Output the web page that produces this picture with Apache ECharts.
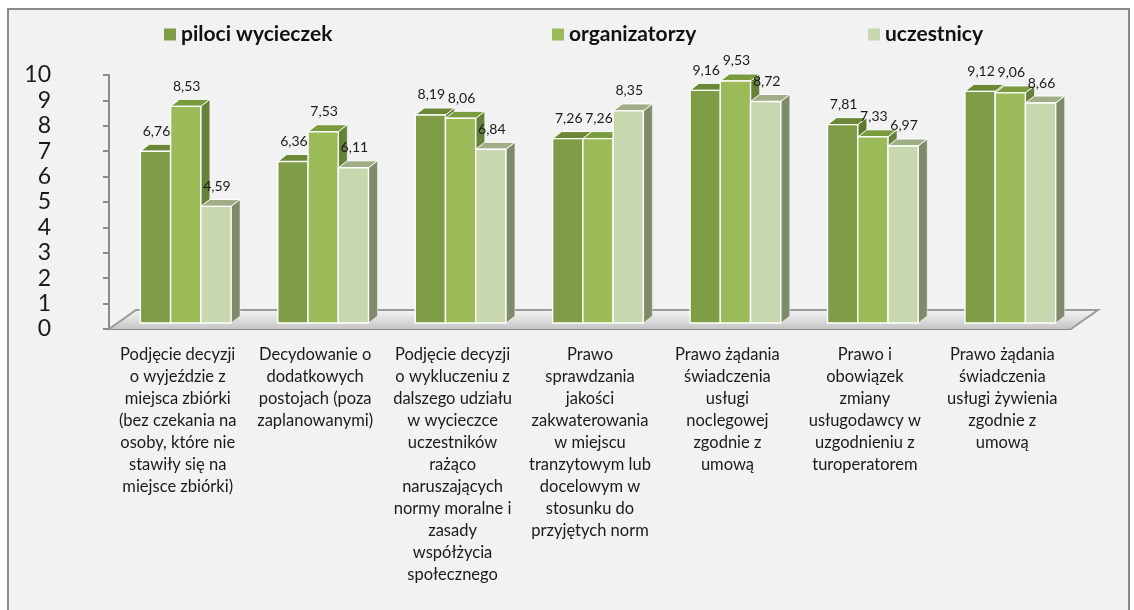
<!DOCTYPE html>
<html>
<head>
<meta charset="utf-8">
<script src="https://cdn.jsdelivr.net/npm/echarts@6/dist/echarts.min.js"></script>
<style>
  html, body { margin: 0; padding: 0; background: #fff; }
  #frame { position: absolute; left: 7px; top: 8px; width: 1119px; height: 640px;
           background: #f2f2f2; border: 2px solid #8a8a8a; }
  #main { position: absolute; left: 0; top: 0; width: 1134px; height: 610px; }
</style>
</head>
<body>
<div id="frame"></div>
<div id="main"></div>
<script>
// dane
const categories = [
  'Podjęcie decyzji\no wyjeździe z\nmiejsca zbiórki\n(bez czekania na\nosoby, które nie\nstawiły się na\nmiejsce zbiórki)',
  'Decydowanie o\ndodatkowych\npostojach (poza\nzaplanowanymi)',
  'Podjęcie decyzji\no wykluczeniu z\ndalszego udziału\nw wycieczce\nuczestników\nrażąco\nnaruszających\nnormy moralne i\nzasady\nwspółżycia\nspołecznego',
  'Prawo\nsprawdzania\njakości\nzakwaterowania\nw miejscu\ntranzytowym lub\ndocelowym w\nstosunku do\nprzyjętych norm',
  'Prawo żądania\nświadczenia\nusługi\nnoclegowej\nzgodnie z\numową',
  'Prawo i\nobowiązek\nzmiany\nusługodawcy w\nuzgodnieniu z\nturoperatorem',
  'Prawo żądania\nświadczenia\nusługi żywienia\nzgodnie z\numową'
];
const seriesNames = ['piloci wycieczek', 'organizatorzy', 'uczestnicy'];
const piloci = [6.76, 6.36, 8.19, 7.26, 9.16, 7.81, 9.12];
const organizatorzy = [8.53, 7.53, 8.06, 7.26, 9.53, 7.33, 9.06];
const uczestnicy = [4.59, 6.11, 6.84, 8.35, 8.72, 6.97, 8.66];
const yMin = 0, yMax = 10, yStep = 1;

const FONT = 'Lato, "Open Sans", sans-serif';
// kolory: przód, góra, bok
const shades = [
  { front: '#7f9c47', top: '#6b8836', side: '#5f7a2f' },
  { front: '#9bbb59', top: '#7b9b3f', side: '#66823a' },
  { front: '#c8d8ae', top: '#9fae86', side: '#7f8a6b' }
];

const DX = 9, DY = 7, OFF_X = 8, OFF_Y = -6;

function fmt(v) { return v.toFixed(2).replace('.', ','); }

function makeBarRender(k) {
  return function (params, api) {
    const ci = api.value(0), v = api.value(1);
    const band = api.size([1, 0])[0];
    const w = band * 0.22;
    const base = api.coord([ci, 0]);
    const top = api.coord([ci, v]);
    const x0 = base[0] + OFF_X - 1.5 * w + k * w;
    const yb = base[1] + OFF_Y, yt = top[1] + OFF_Y;
    const c = shades[k];
    return {
      type: 'group',
      children: [
        { type: 'polygon', shape: { points: [[x0 + w, yt], [x0 + w + DX, yt - DY], [x0 + w + DX, yb - DY], [x0 + w, yb]] },
          style: { fill: c.side, stroke: 'rgba(255,255,255,0.6)', lineWidth: 0.8 } },
        { type: 'polygon', shape: { points: [[x0, yt], [x0 + DX, yt - DY], [x0 + w + DX, yt - DY], [x0 + w, yt]] },
          style: { fill: c.top, stroke: '#ffffff', lineWidth: 1 } },
        { type: 'rect', shape: { x: x0, y: yt, width: w, height: yb - yt },
          style: { fill: c.front, stroke: '#ffffff', lineWidth: 1.4 } },
        { type: 'text', x: x0 + w / 2 + 1, y: yt - 13,
          style: { text: fmt(v), fill: '#1a1a1a', font: '14px ' + FONT, align: 'center', verticalAlign: 'bottom' } }
      ]
    };
  };
}

function floorRender(params, api) {
  const cs = params.coordSys;
  const xl = cs.x, xr = cs.x + cs.width, yf = cs.y + cs.height;
  const fx = 27, fy = 19;
  return {
    type: 'group',
    children: [
      { type: 'polygon', shape: { points: [[xl, yf], [xl + fx, yf - fy], [xr + fx, yf - fy], [xr, yf]] },
        style: { fill: new echarts.graphic.LinearGradient(0, 0, 0, 1, [
          { offset: 0, color: '#f4f4f4' }, { offset: 0.6, color: '#d9d9d9' }, { offset: 1, color: '#c4c4c4' }]) } },
      { type: 'polyline', shape: { points: [[xl, yf], [xl + fx, yf - fy], [xr + fx, yf - fy], [xr, yf]] },
        style: { fill: null, stroke: '#9a9a9a', lineWidth: 2 } }
    ]
  };
}

const chart = echarts.init(document.getElementById('main'));
const dataSets = [piloci, organizatorzy, uczestnicy];

const option = {
  backgroundColor: 'transparent',
  animation: false,
  legend: [0, 1, 2].map(function (k) {
    return {
      data: [seriesNames[k]],
      left: [159, 547, 863][k],
      top: 19,
      itemWidth: 12, itemHeight: 12, itemGap: 6,
      icon: 'rect',
      textStyle: { fontFamily: FONT, fontWeight: 'bold', fontSize: 21, color: '#111' }
    };
  }),
  grid: { left: 109, right: 63, top: 75, bottom: 281 },
  xAxis: {
    type: 'category',
    data: categories,
    axisLine: { lineStyle: { color: '#8c8c8c', width: 2 } },
    axisTick: { length: 5, lineStyle: { color: '#8c8c8c', width: 2 } },
    axisLabel: { interval: 0, margin: 15, lineHeight: 22, fontFamily: FONT, fontSize: 16.5, color: '#1a1a1a' }
  },
  yAxis: {
    type: 'value', min: yMin, max: yMax, interval: yStep,
    axisLine: { show: true, lineStyle: { color: '#8c8c8c', width: 2 } },
    axisTick: { show: true, length: 6, lineStyle: { color: '#8c8c8c', width: 2 } },
    splitLine: { show: false },
    axisLabel: { margin: 58, fontFamily: FONT, fontSize: 23, color: '#1a1a1a', align: 'right' }
  },
  series: [
    { type: 'custom', name: 'floor', z: 1, silent: true, renderItem: floorRender, data: [[0, 0]] }
  ].concat(dataSets.map(function (arr, k) {
    return {
      type: 'custom',
      name: seriesNames[k],
      z: 2 + k,
      itemStyle: { color: shades[k].front },
      renderItem: makeBarRender(k),
      encode: { x: 0, y: 1 },
      data: arr.map(function (v, i) { return [i, v]; })
    };
  }))
};

chart.setOption(option);
</script>
</body>
</html>
